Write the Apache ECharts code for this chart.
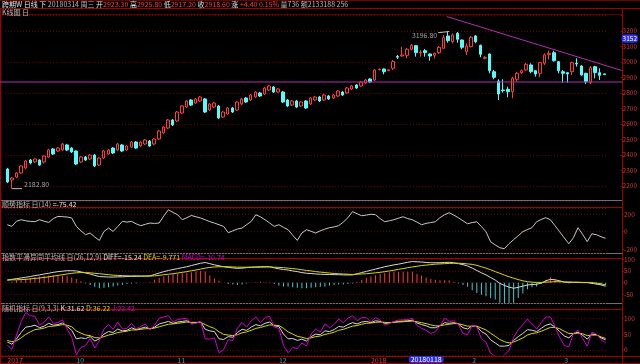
<!DOCTYPE html>
<html><head><meta charset="utf-8">
<script src="https://cdn.jsdelivr.net/npm/echarts@6/dist/echarts.min.js"></script>
<style>html,body{margin:0;padding:0;background:#000}#c{width:640px;height:364px}</style>
</head><body><div id="c"></div>
<script>
// ---------- DATA ----------
// trading days per month
const daysSep17 = [11,12,13,14,15,18,19,20,21,22,25,26,27,28,29];
const daysOct17 = [2,3,4,5,6,9,10,11,12,13,16,17,18,19,20,23,24,25,26,27,30,31];
const daysNov17 = [1,2,3,6,7,8,9,10,13,14,15,16,17,20,21,22,23,24,27,28,29,30];
const daysDec17 = [1,4,5,6,7,8,11,12,13,14,15,18,19,20,21,22,26,27,28,29];
const daysJan18 = [2,3,4,5,8,9,10,11,12,15,16,17,18,19,22,23,24,25,26,29,30,31];
const daysFeb18 = [1,2,5,6,7,8,9,12,13,14,15,16,19,20,21,22,23,26,27,28];
const daysMar18 = [1,2,5,6,7,8,9,12,13,14];

// x-axis tick labels (first trading day of each month)
const tickDates  = ['20170911','20171002','20171101','20171201','20180102','20180201','20180301'];
const tickLabels = ['2017','10','11','12','2018','2','3'];

const opens = [2309.6,2238.6,2258.0,2283.8,2316.1,2367.7,2354.8,2367.7,2354.8,2387.0,2438.7,2425.7,2432.2,2464.5,2445.1,2425.7,2354.8,2387.0,2374.1,2399.9,2335.4,2380.6,2406.4,2445.1,2432.2,2464.5,2432.2,2451.6,2483.8,2458.0,2470.9,2490.3,2470.9,2503.2,2541.9,2574.1,2625.8,2619.3,2670.9,2709.6,2754.8,2735.4,2748.3,2761.3,2690.3,2709.6,2716.1,2645.1,2664.5,2703.2,2690.3,2729.0,2767.7,2754.8,2774.2,2800.0,2793.5,2819.3,2838.7,2806.4,2806.4,2754.8,2722.5,2748.3,2716.1,2748.3,2729.0,2754.8,2774.2,2754.8,2780.6,2767.7,2780.6,2806.4,2800.0,2825.8,2851.6,2845.1,2864.5,2890.3,2883.8,2950.0,2954.8,2945.0,2959.4,3036.0,3038.7,3043.2,3082.0,3105.2,3060.0,3072.9,3051.6,3043.2,3060.0,3088.4,3167.8,3131.0,3185.2,3142.0,3066.5,3098.7,3167.8,3107.8,3023.9,3051.6,2937.4,2877.4,2819.4,2823.9,2808.4,2888.4,2931.0,2948.4,2980.7,2943.9,2927.1,2991.6,3047.1,3060.0,3002.0,2937.4,2931.0,2937.4,2992.0,2974.2,2927.1,2869.0,2969.7,2931.0,2923.3];
const closes = [2225.7,2251.5,2283.8,2329.0,2361.2,2348.3,2374.1,2335.4,2393.5,2432.2,2406.4,2445.1,2470.9,2432.2,2419.3,2341.9,2387.0,2367.7,2399.9,2329.0,2380.6,2425.7,2432.2,2412.8,2470.9,2425.7,2458.0,2483.8,2445.1,2483.8,2496.7,2458.0,2503.2,2554.8,2580.6,2625.8,2593.5,2677.4,2716.1,2748.3,2722.5,2761.3,2774.2,2677.4,2729.0,2735.4,2638.7,2677.4,2703.2,2677.4,2741.9,2761.3,2741.9,2787.1,2806.4,2780.6,2832.2,2845.1,2806.4,2825.8,2741.9,2716.1,2748.3,2709.6,2741.9,2703.2,2767.7,2774.2,2748.3,2787.1,2761.3,2787.1,2812.9,2787.1,2832.2,2845.1,2832.2,2870.9,2883.8,2870.9,2948.4,2953.0,2937.4,2949.0,3001.9,3031.0,3045.2,3082.0,3107.8,3060.0,3063.0,3060.0,3038.7,3056.1,3094.9,3156.8,3137.4,3174.2,3146.5,3094.9,3103.2,3159.4,3131.0,3049.7,3030.3,2943.9,2901.3,2793.6,2814.8,2808.4,2894.8,2927.1,2943.9,2985.2,2937.4,2922.6,2995.5,3045.2,3056.1,3008.4,2943.9,2927.1,2922.6,2995.5,2987.0,2916.1,2872.9,2963.2,2931.0,2914.2,2918.6];
const lows   = [2219,2182.8,2252,2278,2310,2340,2348,2329,2345,2382,2399,2418,2426,2425,2413,2335,2348,2361,2368,2322,2329,2374,2400,2406,2425,2419,2426,2445,2438,2451,2464,2451,2464,2496,2535,2567,2587,2612,2664,2703,2716,2729,2742,2671,2684,2703,2632,2639,2658,2671,2684,2722,2735,2748,2768,2774,2787,2813,2800,2800,2735,2709,2716,2703,2709,2697,2722,2748,2742,2748,2755,2761,2774,2781,2794,2819,2826,2839,2858,2864,2877,2946,2920.7,2940,2948.4,3019.4,3034.2,3023.9,3074.2,3034.2,3034.2,3034.2,3008.4,3023.9,3051.6,3083.9,3124.5,3120.7,3124.5,3082.0,3045.2,3093.6,3120.7,3030.3,3017.4,2927.1,2888.4,2754.8,2801.9,2772.3,2765.8,2872.9,2922.6,2942.0,2927.1,2905.2,2901.3,2980.7,3017.4,3002.0,2927.1,2866.5,2866.5,2916.1,2969.7,2912.0,2858.1,2858.0,2894.8,2883.9,2917.2];
const highs  = [2316,2258,2290,2335,2368,2374,2381,2372,2398,2440,2445,2451,2477,2472,2450,2430,2393,2393,2406,2406,2387,2432,2438,2451,2477,2471,2464,2490,2490,2490,2503,2497,2510,2561,2587,2632,2632,2684,2722,2755,2761,2768,2781,2768,2735,2742,2722,2684,2710,2710,2748,2768,2774,2794,2813,2807,2839,2852,2845,2832,2813,2761,2755,2755,2748,2755,2774,2781,2781,2794,2787,2794,2819,2813,2839,2852,2858,2877,2890,2897,2955,2958,2957,2953,3012.9,3045.2,3096.8,3090.3,3116.2,3109.7,3077.4,3083.9,3055,3060,3103.2,3174.2,3196.8,3183.9,3193.6,3145,3120.7,3167.8,3174.2,3112,3038.7,3055,2948.4,2888.4,2888.4,2840.7,2905.2,2937.4,2951.6,2993.6,2991.6,2947,3000,3056.1,3072.9,3072.9,3005,2948.4,2934,3002.0,3023.9,2980,2930,2974.2,2975,2959.4,2925.8];

const cci = [80,61,120,137,125,118,115,137,120,106,150,175,172,168,157,61,10,-34,-15,-60,-99,3,42,3,60,118,110,118,90,69,85,99,95,99,180,251,220,194,137,160,186,170,157,137,115,99,80,61,-11,10,31,42,80,118,194,170,137,100,61,80,50,23,-40,-99,-15,23,5,-15,10,30,46,55,69,110,160,229,205,183,190,200,194,150,114,125,137,155,171,150,137,110,80,95,105,114,160,194,217,190,160,125,91,105,114,60,0,-114,-150,-183,-194,-137,-90,-46,0,25,46,114,140,160,137,69,0,-69,-137,-69,46,-30,-114,-23,-34,-57,-75.42];

const diff = [11,14,17,20,23,26,30,33,37,40,44,47,49,51,51,50,46,41,37,31,26,25,24,24,25,25,26,27,27,28,28,29,35,41,47,52,56,60,64,68,73,78,83,86,81,76,72,68,65,63,61,62,64,66,67,68,68,68,63,59,56,54,50,47,43,40,39,37,36,35,35,34,34,33,33,33,38,43,48,53,58,63,68,72,76,79,83,87,90,89,88,86,85,85,85,86,87,85,81,77,71,62,52,42,33,22,11,-3,-12,-19,-24,-20,-15,-10,-8,-7,-2,8,14,12,8,2,1,1,1,0,0,-3,-6,-10,-15.24];
const dea  = [11,12,12,13,14,16,18,20,22,25,28,31,34,37,40,42,43,43,42,40,38,36,34,32,31,30,29,29,29,28,28,28,29,31,34,36,38,41,44,47,51,54,58,62,65,67,68,68,68,67,66,66,66,66,66,66,67,67,66,65,64,62,60,58,55,52,50,47,45,43,41,39,38,37,36,35,36,37,38,40,42,44,47,50,53,57,60,64,67,70,73,75,77,79,80,81,82,83,83,82,80,78,74,68,62,55,47,40,32,25,19,13,8,4,2,1,1,2,3,4,4,3,3,2,2,1,1,0,-2,-5,-9.77];
const macd = [0,4,10,14,18,20,24,26,30,30,32,32,30,28,22,16,6,-4,-10,-18,-24,-22,-20,-16,-12,-10,-6,-4,-4,0,0,2,12,20,26,32,36,38,40,42,44,48,50,48,32,18,8,0,-6,-8,-10,-8,-4,0,2,4,2,2,-6,-12,-16,-16,-20,-22,-24,-24,-22,-20,-18,-16,-12,-10,-8,-8,-6,-4,4,12,20,26,32,38,42,44,46,44,46,46,46,38,30,22,16,12,10,10,10,4,-4,-10,-18,-32,-44,-52,-58,-66,-72,-86,-88,-88,-86,-66,-46,-28,-20,-16,-6,12,22,16,8,-2,-4,-2,-2,-2,-2,-6,-8,-10,-10.74];

const kLine = [25,18,35,55,72,74,78,70,75,84,78,80,85,74,62,35,38,36,42,28,35,50,58,55,66,60,62,70,64,68,72,66,72,82,86,90,84,88,90,92,85,86,88,65,60,58,35,33,42,40,55,65,62,72,80,76,84,88,76,74,50,35,36,30,34,28,42,50,48,60,58,64,74,72,80,86,82,88,90,86,92,90,84,85,88,90,91,92,94,85,80,76,70,70,76,86,84,86,82,70,66,76,74,58,50,32,22,12,12,14,30,42,52,64,62,58,68,78,82,72,58,44,38,52,56,46,34,50,48,38,31.62];
const dLine = [30,26,29,38,49,57,64,66,69,74,75,77,80,78,73,60,53,47,45,39,38,42,47,50,55,57,59,63,63,65,67,67,69,73,77,81,82,84,86,88,87,87,87,80,73,68,57,49,47,45,48,54,57,62,68,71,75,79,78,77,68,57,50,43,40,36,38,42,44,49,52,56,62,65,70,75,77,81,84,85,87,88,87,86,87,88,89,90,91,89,86,83,79,76,76,79,81,83,83,79,75,75,75,69,63,53,43,33,26,22,25,31,38,47,52,54,59,65,71,71,67,59,52,52,53,51,45,47,47,41,36.22];
const jLine = [15,2,47,89,118,108,106,78,87,104,84,86,95,66,40,-15,8,14,36,6,29,66,80,65,88,66,68,84,66,74,82,64,78,100,104,108,88,96,98,100,81,84,90,35,34,38,-9,1,32,30,69,87,72,92,104,86,102,106,72,68,14,-9,8,4,22,12,50,66,56,82,70,80,98,86,100,108,92,102,102,88,102,94,78,83,90,94,95,96,100,77,68,62,52,58,76,100,90,92,80,52,48,78,72,36,24,-10,-20,-30,-16,-2,40,64,80,98,82,66,86,104,104,74,40,14,10,52,62,36,12,56,50,32,22.42];

// annotation values (x in bar-index units)
const trendStart = [95.5, 3292.9], trendEnd = [133.5, 2945.1];
const supportLevel = 2871.0;
const cursorPrice = 3152;
const cursorDate = '20180118';

// ---------- BUILD ----------
function pad(d){return d<10?'0'+d:''+d;}
const dates = [].concat(
  daysSep17.map(d=>'201709'+pad(d)), daysOct17.map(d=>'201710'+pad(d)), daysNov17.map(d=>'201711'+pad(d)),
  daysDec17.map(d=>'201712'+pad(d)), daysJan18.map(d=>'201801'+pad(d)), daysFeb18.map(d=>'201802'+pad(d)),
  daysMar18.map(d=>'201803'+pad(d)));
const N = dates.length;
const candle = opens.map((o,i)=>[o, closes[i], lows[i], highs[i]]);
const maxHigh = Math.max.apply(null, highs), minLow = Math.min.apply(null, lows);
const iMax = highs.indexOf(maxHigh), iMin = lows.indexOf(minLow);

const FONT = '"Noto Sans CJK SC","DejaVu Sans",sans-serif';
const RED = '#ff3c3c', CYAN = '#54fcfc', GRIDRED = '#6a0000', LINERED = '#a00000';
const WHITE = '#d8d8d8', YELLOW = '#d8d800', MAGENTA = '#d000d0', AXISTXT = '#c83c3c';

const tickMap = {}; tickDates.forEach((d,i)=>tickMap[d]=tickLabels[i]);

// main price grid geometry (shared by the overlay grid for annotations)
const G_LEFT = 5, G_WIDTH = 603, AX_X = 622;
const BAR_W = G_WIDTH / N;
const ovMin = -0.5 - G_LEFT / BAR_W, ovMax = ovMin + AX_X / BAR_W;

function catAxis(g, extra){
  return Object.assign({type:'category', gridIndex:g, data:dates, boundaryGap:true,
    axisLine:{show:false}, axisTick:{show:false}, axisLabel:{show:false}, splitLine:{show:false}}, extra||{});
}
function valAxis(g, min, max, split, extra){
  return Object.assign({type:'value', gridIndex:g, position:'right', offset:AX_X-G_LEFT-G_WIDTH, min:min, max:max, splitNumber:split, scale:true,
    axisLine:{show:false}, axisTick:{show:true, length:2, lineStyle:{color:LINERED}},
    axisLabel:{color:AXISTXT, fontSize:6.5, fontFamily:FONT, margin:2, showMinLabel:false, showMaxLabel:false, formatter:(v)=>String(v)},
    splitLine:{show:true, lineStyle:{color:GRIDRED, type:[1,2], width:1}}}, extra||{});
}
const mainMin = 2103.1, mainMax = 3303.2;

const rich = {
  w:{color:'#e0e0e0', fontSize:7, fontFamily:FONT},
  g:{color:'#b8b8b8', fontSize:7, fontFamily:FONT},
  r:{color:RED, fontSize:7, fontFamily:FONT},
  y:{color:YELLOW, fontSize:7, fontFamily:FONT},
  m:{color:MAGENTA, fontSize:7, fontFamily:FONT}
};
function ttl(top, text){ return {left:2, top:top, padding:0, text:text, textStyle:{fontSize:7, fontFamily:FONT, fontWeight:'normal', rich:rich}}; }

function hline(y, x1, x2, c){ return {type:'line', silent:true, shape:{x1:x1, y1:y, x2:x2, y2:y}, style:{stroke:c, lineWidth:1}}; }
function vline(x, y1, y2, c){ return {type:'line', silent:true, shape:{x1:x, y1:y1, x2:x, y2:y2}, style:{stroke:c, lineWidth:1}}; }

const option = {
  backgroundColor:'#000',
  animation:false,
  axisPointer:{triggerOn:'none', link:[]},
  title:[
    ttl(0.5, '{w|跨期W 日线 下 }{g|'+dates[N-1]+' 周三 }{w|开}{r|'+opens[N-1].toFixed(2)+' }{w|高}{r|'+highs[N-1].toFixed(2)+' }{w|低}{r|'+lows[N-1].toFixed(2)+' }{w|收}{r|'+closes[N-1].toFixed(2)+' }{w|涨 }{r|+4.40 0.15% }{g|量736 额2133188 256}'),
    ttl(8.5, '{g|K线图 日}'),
    ttl(200.5, '{g|顺势指标 日(14) }{w|=-75.42}'),
    ttl(254, '{g|指数平滑异同平均线 日(26,12,9) }{w|DIFF=-15.24 }{y|DEA=-9.771 }{m|MACD=-10.74}'),
    ttl(304.5, '{g|随机指标 日(9,3,3) }{w|K:31.62 }{y|D:36.22 }{m|J:22.42}')
  ],
  grid:[
    {left:G_LEFT, width:G_WIDTH, top:15, height:186},
    {left:G_LEFT, width:G_WIDTH, top:208, height:45},
    {left:G_LEFT, width:G_WIDTH, top:259, height:44},
    {left:G_LEFT, width:G_WIDTH, top:310, height:46},
    {left:0, width:AX_X, top:15, height:186}
  ],
  xAxis:[
    catAxis(0), catAxis(1), catAxis(2),
    catAxis(3, {axisLabel:{show:true, interval:(i,v)=>tickMap[v]!==undefined, formatter:(v)=>tickMap[v]||'',
      color:(v)=>(tickMap[v]&&tickMap[v].length===4)?'#d04040':'#20a8a8', fontSize:7, fontFamily:FONT, margin:2, align:'left'},
      axisPointer:{show:true, status:'show', value:dates.indexOf(cursorDate), type:'line', lineStyle:{opacity:0},
        label:{show:true, backgroundColor:'#2c2ce0', color:'#ffffff', fontSize:7, fontFamily:FONT, padding:[0,2], margin:1, formatter:()=>cursorDate}}}),
    {type:'value', gridIndex:4, min:ovMin, max:ovMax, show:false}
  ],
  yAxis:[
    valAxis(0, mainMin, mainMax, 12, {splitLine:{show:false},
      axisLabel:{color:AXISTXT, fontSize:6.5, fontFamily:FONT, margin:2, showMinLabel:false, showMaxLabel:false, formatter:(v)=>v>3250?'':String(v)},
      axisPointer:{show:true, status:'show', value:cursorPrice, type:'line', lineStyle:{opacity:0},
        label:{show:true, backgroundColor:'#2c2ce0', color:'#ffffff', fontSize:6.5, fontFamily:FONT, padding:[1,1], margin:1, formatter:()=>String(cursorPrice)}}}),
    valAxis(0, mainMin, mainMax, 6, {axisLabel:{show:false}, axisTick:{show:false}}),
    valAxis(1, -243, 271, 3),
    valAxis(2, -87, 101, 4),
    valAxis(3, -16, 126, 3),
    {type:'value', gridIndex:4, min:mainMin, max:mainMax, show:false}
  ],
  series:[
    {type:'candlestick', xAxisIndex:0, yAxisIndex:0, data:candle, barWidth:3,
      itemStyle:{color:'#000000', color0:CYAN, borderColor:RED, borderColor0:CYAN, borderWidth:1}},
    {type:'line', xAxisIndex:4, yAxisIndex:5, data:[trendStart, trendEnd], symbol:'none',
      lineStyle:{color:'#b030b0', width:1}},
    {type:'line', xAxisIndex:4, yAxisIndex:5, data:[[ovMin, supportLevel],[ovMax, supportLevel]], symbol:'none',
      lineStyle:{color:'#b030b0', width:1}},
    {type:'line', xAxisIndex:4, yAxisIndex:5, data:[[iMax-2.4, maxHigh-8],[iMax, maxHigh]], symbol:'none',
      lineStyle:{color:'#c0c0c0', width:1}},
    {type:'line', xAxisIndex:4, yAxisIndex:5, data:[[iMin, minLow],[iMin+2.2, minLow]], symbol:'none',
      lineStyle:{color:'#c0c0c0', width:1}},
    {type:'scatter', xAxisIndex:4, yAxisIndex:5, symbolSize:1, itemStyle:{color:'rgba(0,0,0,0)'},
      data:[{value:[iMax-2.5, maxHigh-22], label:{show:true, position:'left', distance:0, formatter:maxHigh.toFixed(2)}},
            {value:[iMin+2.3, minLow], label:{show:true, position:'right', distance:1, offset:[0,-4], formatter:minLow.toFixed(2)}}],
      label:{color:'#c8c8c8', fontSize:7, fontFamily:FONT}},
    {type:'line', xAxisIndex:1, yAxisIndex:2, data:cci, symbol:'none', lineStyle:{color:'#c8c8c8', width:1}},
    {type:'bar', xAxisIndex:2, yAxisIndex:3, data:macd, barWidth:1,
      itemStyle:{color:(p)=>p.value>=0?RED:'#40d0d0'}},
    {type:'line', xAxisIndex:2, yAxisIndex:3, data:diff, symbol:'none', lineStyle:{color:WHITE, width:1}},
    {type:'line', xAxisIndex:2, yAxisIndex:3, data:dea, symbol:'none', lineStyle:{color:YELLOW, width:1}},
    {type:'line', xAxisIndex:3, yAxisIndex:4, data:kLine, symbol:'none', lineStyle:{color:WHITE, width:1}},
    {type:'line', xAxisIndex:3, yAxisIndex:4, data:dLine, symbol:'none', lineStyle:{color:YELLOW, width:1}},
    {type:'line', xAxisIndex:3, yAxisIndex:4, data:jLine, symbol:'none', lineStyle:{color:MAGENTA, width:1}}
  ],
  graphic:[
    hline(0.5, 0, 640, '#700000'),
    hline(8.5, 0, 640, LINERED),
    hline(14.5, 0, 622, '#600000'),
    hline(200.5, 0, 622, '#707070'),
    hline(207.5, 0, 622, LINERED),
    hline(253.5, 0, 622, '#707070'),
    hline(258.5, 0, 622, LINERED),
    hline(303.5, 0, 622, '#707070'),
    hline(309.5, 0, 622, LINERED),
    hline(356.5, 0, 640, LINERED),
    hline(363.5, 0, 640, LINERED),
    vline(0.5, 8, 364, LINERED),
    vline(AX_X + 0.5, 8, 364, LINERED)
  ]
};
const chart = echarts.init(document.getElementById('c'), null, {renderer:'canvas', width:640, height:364});
chart.setOption(option);
</script></body></html>
